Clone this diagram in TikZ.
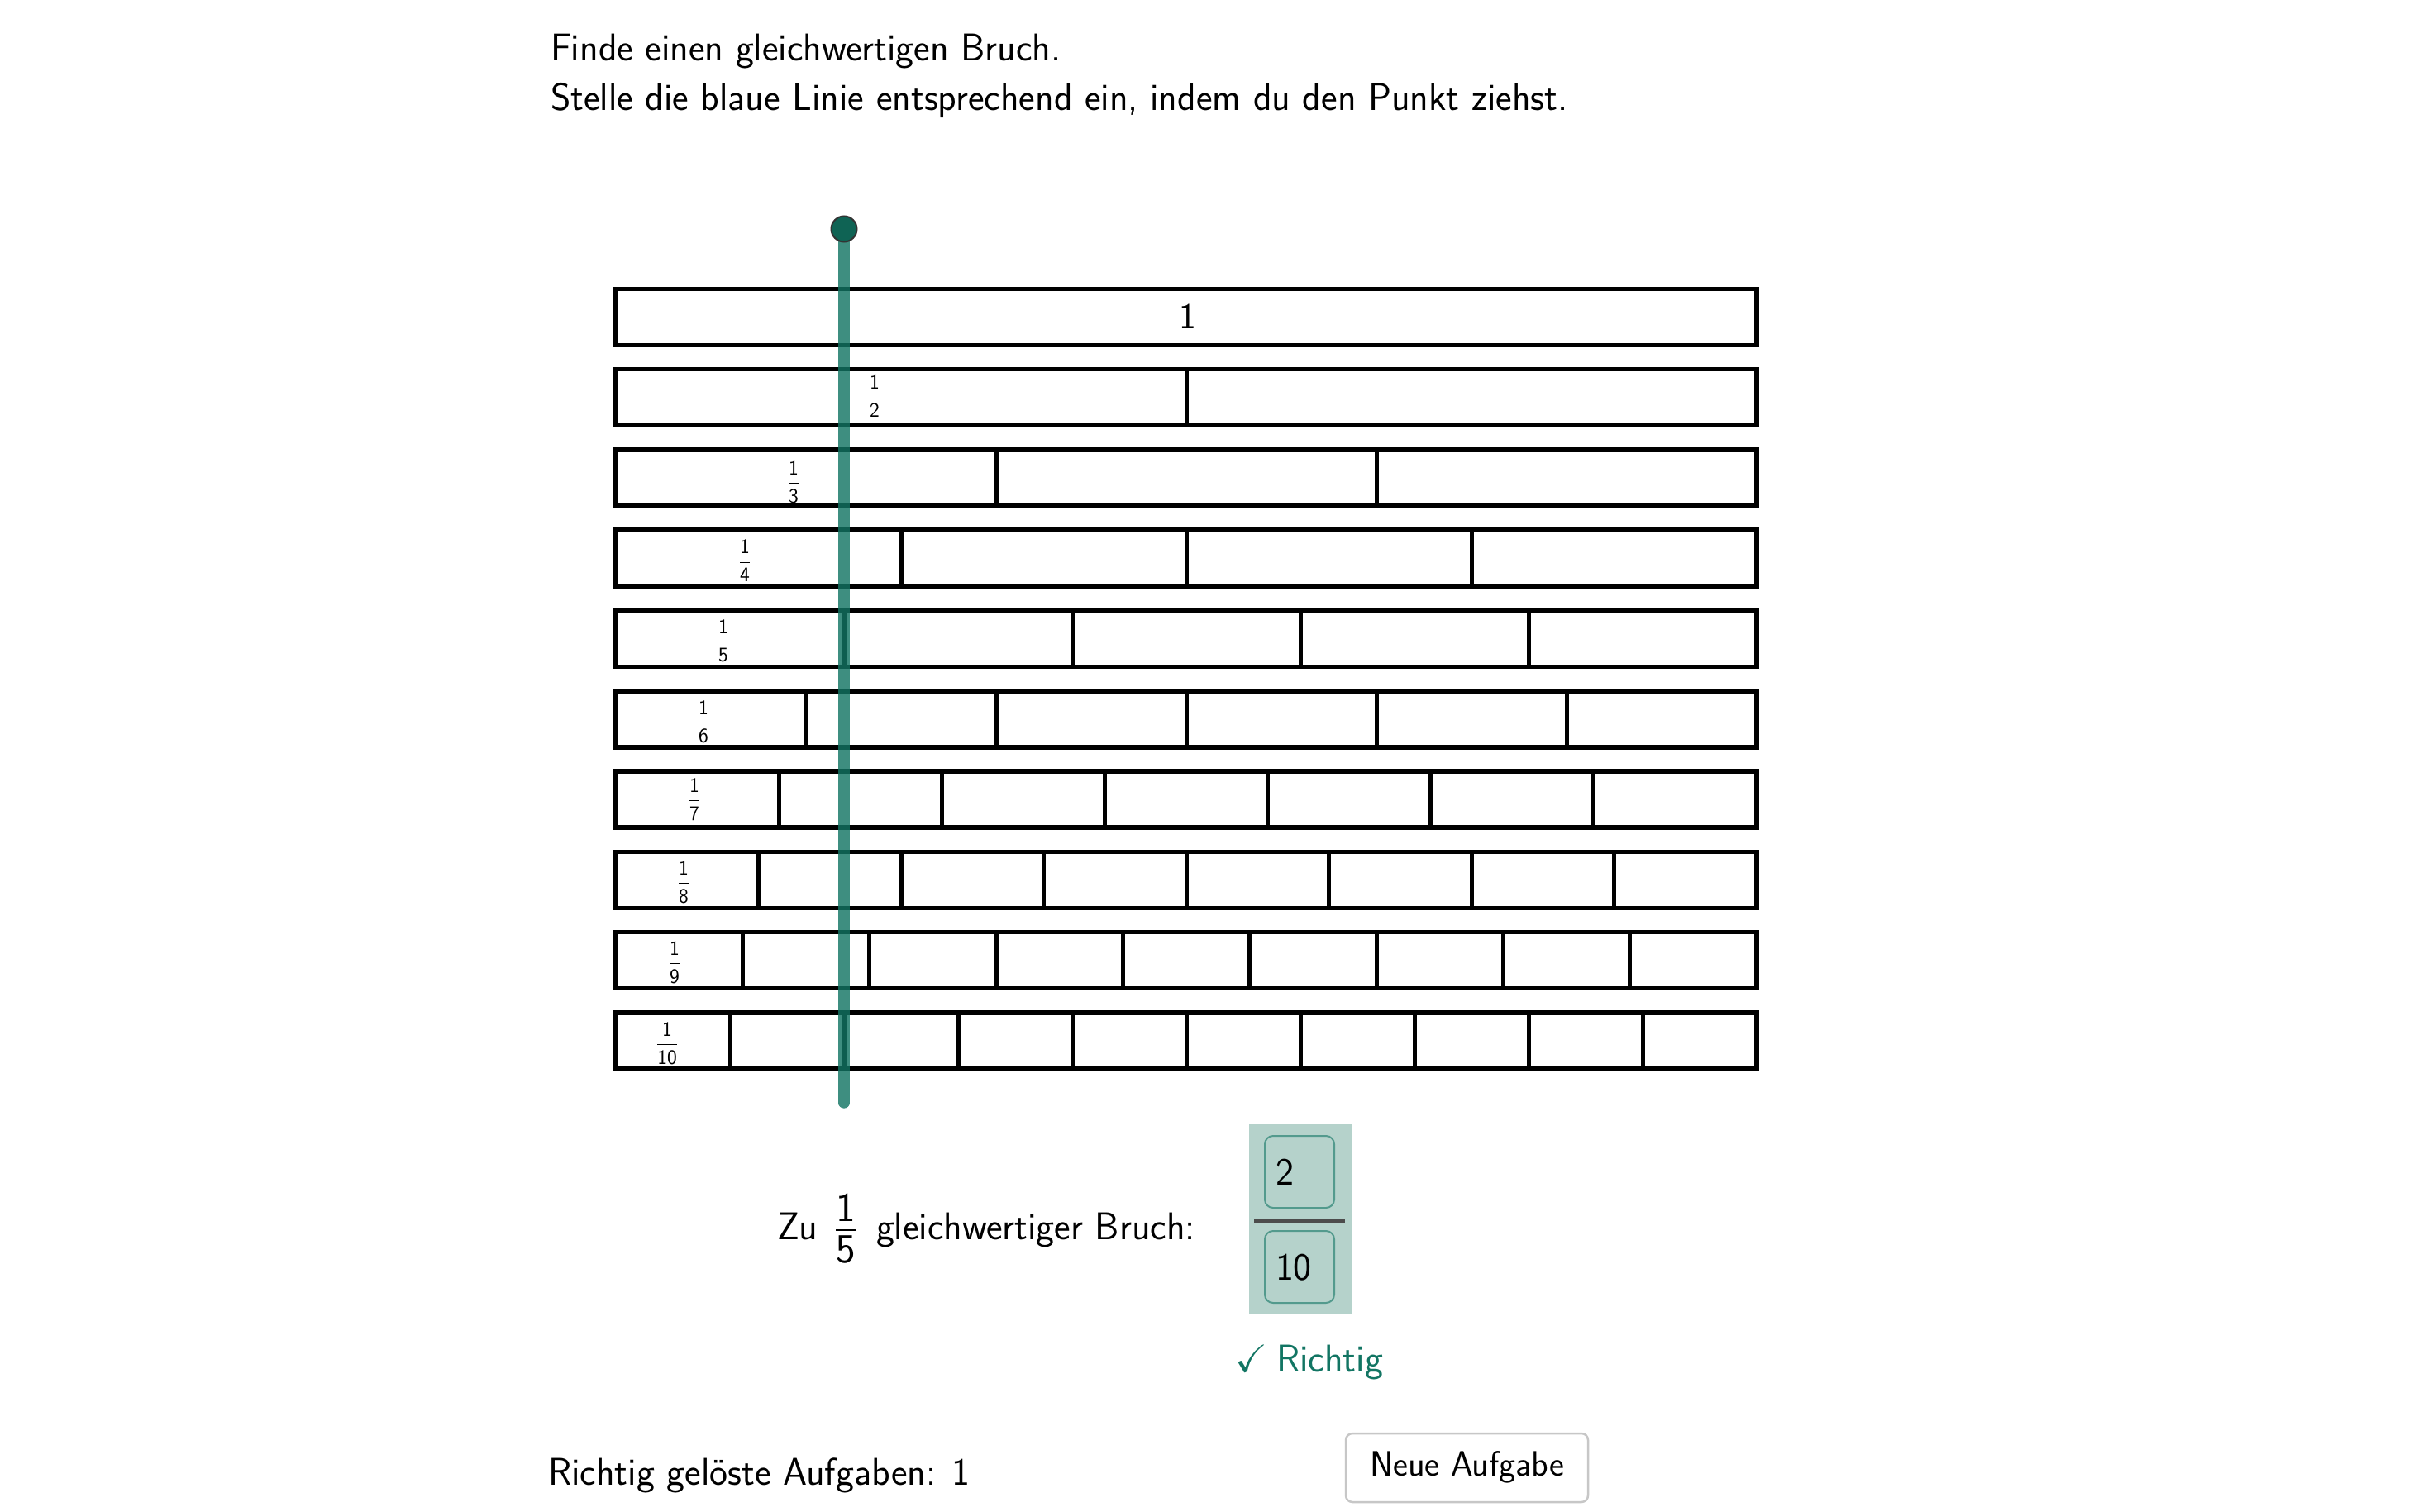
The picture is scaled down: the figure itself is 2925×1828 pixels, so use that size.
\documentclass[tikz,border=0pt]{standalone}
\usepackage{amssymb}
\usepackage{fontspec}
\definecolor{teal1}{HTML}{127563}
\definecolor{paleteal}{HTML}{B5D2CB}
\newcommand{\fr}[2]{$\displaystyle\frac{\mathsf{#1}}{\mathsf{#2}}$}
\tikzset{
  txt/.style={anchor=base west,inner sep=0pt,outer sep=0pt,font=\sffamily\fontsize{46.7}{56}\selectfont},
  lab/.style={anchor=center,inner sep=0pt,outer sep=0pt,font=\sffamily\fontsize{25}{30}\selectfont},
  bar/.style={draw=black,line width=5.5pt},
  split/.style={draw=black,line width=5pt},
  inbox/.style={draw=teal1!60!paleteal,line width=2pt,rounded corners=10pt},
}
\begin{document}
\begin{tikzpicture}[x=1pt,y=-1pt]
\useasboundingbox (0,0) rectangle (2925,1828);
\fill[white] (0,0) rectangle (2925,1828);
\node[txt] (t1) at (666,74) {Finde einen gleichwertigen Bruch.};
\node[txt] (t2) at (666,133) {Stelle die blaue Linie entsprechend ein, indem du den Punkt ziehst.};
% bars
\foreach \n [evaluate=\n as \top using 349.3+(\n-1)*97.3] in {1,...,10} {
  \draw[bar] (745,\top) rectangle (2125,\top+68);
  \ifnum\n>1
    \pgfmathtruncatemacro{\m}{\n-1}
    \foreach \k in {1,...,\m} {
      \draw[split] ({745+1380*\k/\n},\top) -- ({745+1380*\k/\n},\top+68);
    }
  \fi
}
\node[lab,font=\sffamily\fontsize{44}{50}\selectfont] (one) at (1437,383) {1};
\node[lab] (f2) at (1058,479) {\fr{1}{2}};
\node[lab] (f3) at (960,583) {\fr{1}{3}};
\node[lab] (f4) at (901,678) {\fr{1}{4}};
\node[lab] (f5) at (875,775) {\fr{1}{5}};
\node[lab] (f6) at (851,873) {\fr{1}{6}};
\node[lab] (f7) at (840,967) {\fr{1}{7}};
\node[lab] (f8) at (827,1067) {\fr{1}{8}};
\node[lab] (f9) at (816,1164) {\fr{1}{9}};
\node[lab] (f10) at (807,1262) {\fr{1}{10}};
% line and point
\draw[teal1,opacity=.81,line width=13.3pt,line cap=round] (1021,285) -- (1021,1334);
\node[circle,fill=teal1!85!black,draw=black!80,line width=2pt,minimum size=31pt,inner sep=0pt] (pt) at (1021,277) {};
% answer
\node[txt] (zu) at (940,1499) {Zu};
\node[lab,font=\sffamily\fontsize{50}{56}\selectfont] (ff) at (1023,1486) {\fr{1}{5}};
\node[txt] (gl) at (1060,1499) {gleichwertiger Bruch:};
\fill[paleteal] (1510.5,1360) rectangle (1634.5,1589);
\draw[inbox] (1530,1374) rectangle (1614,1461);
\draw[inbox] (1530,1489) rectangle (1614,1576);
\draw[black!70,line width=5pt] (1517,1476) -- (1627,1476);
\node[txt] (n2) at (1543,1433) {2};
\node[txt] (n10) at (1543,1548) {10};
\node[txt,text=teal1] (ok) at (1494,1659) {$\checkmark$};
\node[txt,text=teal1] (ri) at (1544,1659) {Richtig};
% bottom
\node[txt] (gel) at (663,1796) {Richtig gelöste Aufgaben: 1};
\draw[black!22,line width=2.5pt,rounded corners=8pt] (1628,1734) rectangle (1921,1817);
\node[txt,font=\sffamily\fontsize{42.7}{50}\selectfont] (btn) at (1657,1785) {Neue Aufgabe};
\end{tikzpicture}
\end{document}
